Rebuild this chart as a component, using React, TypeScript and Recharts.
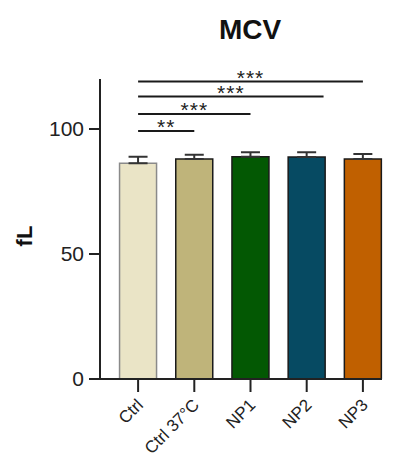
import React from 'react';
import { BarChart, Bar, XAxis, YAxis, Cell, ErrorBar, ReferenceLine } from 'recharts';

const categories = ['Ctrl', 'Ctrl 37°C', 'NP1', 'NP2', 'NP3'];
const means = [86.3, 88.0, 88.9, 88.8, 88.0];
const sems = [2.6, 1.7, 1.8, 1.9, 2.0];
const fills = ['#EAE4C6', '#BFB47A', '#035803', '#064A62', '#C06000'];
const strokes = ['#8a8a8a', '#1a1a1a', '#1a1a1a', '#1a1a1a', '#1a1a1a'];
const yTicks = [0, 50, 100];

const sigFrom = [0, 0, 0, 0];
const sigTo = [4, 3.3, 2, 1];
const sigY = [119, 113, 106, 99.2];
const sigLabels = ['***', '***', '***', '**'];

const data = categories.map((c, i) => ({
  name: c,
  idx: i,
  value: means[i],
  err: [0, sems[i]],
}));

const FONT = '"Liberation Sans", Arial, sans-serif';

const XTick = (props: any) => {
  const { x, y, payload } = props;
  const px = x + 6;
  const py = y + 14;
  return (
    <text
      x={px}
      y={py}
      transform={`rotate(-45, ${px}, ${py})`}
      textAnchor="end"
      fontSize={17}
      fill="#222"
      fontFamily={FONT}
    >
      {payload.value}
    </text>
  );
};

const YLabel = (props: any) => {
  const vb = props.viewBox || { x: 0, y: 0, width: 0, height: 0 };
  const cx = 24;
  const cy = vb.y + vb.height / 2 + 7;
  return (
    <text
      x={cx}
      y={cy}
      transform={`rotate(-90, ${cx}, ${cy})`}
      textAnchor="middle"
      fontSize={22}
      fontWeight="bold"
      fill="#111"
      fontFamily={FONT}
    >
      fL
    </text>
  );
};

export default function App() {
  return (
    <div style={{ position: 'relative', width: 390, height: 451, fontFamily: FONT }}>
      <div
        style={{
          position: 'absolute',
          left: 0,
          top: 8,
          width: 484,
          textAlign: 'center',
          fontSize: 28,
          lineHeight: '28px',
          fontWeight: 'bold',
          color: '#111',
          fontFamily: FONT,
        }}
      >
        MCV
      </div>
      <BarChart
        width={390}
        height={451}
        data={data}
        margin={{ top: 71, right: 16, bottom: 10, left: 0 }}
        barCategoryGap="17%"
      >
        <XAxis
          dataKey="name"
          type="category"
          height={70}
          padding={{ left: 10, right: -9 }}
          tickSize={13}
          tickMargin={0}
          axisLine={{ stroke: '#222', strokeWidth: 2 }}
          tickLine={{ stroke: '#222', strokeWidth: 2 }}
          tick={<XTick />}
          interval={0}
        />
        <XAxis
          xAxisId="n"
          dataKey="idx"
          type="number"
          domain={[-0.5, 4.5]}
          allowDataOverflow
          padding={{ left: 10, right: -9 }}
          hide
        />
        <YAxis
          width={92}
          domain={[0, 120]}
          ticks={yTicks}
          allowDataOverflow
          tickSize={11}
          tickMargin={5}
          axisLine={{ stroke: '#222', strokeWidth: 2 }}
          tickLine={{ stroke: '#222', strokeWidth: 2 }}
          tick={{ fontSize: 21, fill: '#222', fontFamily: FONT }}
          label={<YLabel />}
        />
        <Bar dataKey="value" strokeWidth={1.5} isAnimationActive={false}>
          {data.map((d, i) => (
            <Cell key={d.name} fill={fills[i]} stroke={strokes[i]} />
          ))}
          <ErrorBar dataKey="err" width={9.5} strokeWidth={2} stroke="#333" direction="y" />
        </Bar>
        {sigY.map((yv, i) => (
          <ReferenceLine
            key={i}
            xAxisId="n"
            segment={[
              { x: sigFrom[i], y: yv },
              { x: sigTo[i], y: yv },
            ]}
            stroke="#1a1a1a"
            strokeWidth={2}
            ifOverflow="visible"
            label={{
              value: sigLabels[i],
              position: 'top',
              offset: -3,
              fontSize: 21,
              fill: '#222',
              letterSpacing: 1,
              fontFamily: FONT,
            }}
          />
        ))}
      </BarChart>
    </div>
  );
}
